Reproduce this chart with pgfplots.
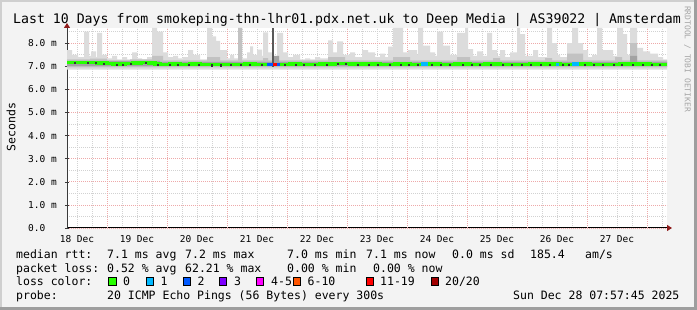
\documentclass[border=0pt]{standalone}
\usepackage{pgfplots}
\pgfplotsset{compat=1.18}
\usetikzlibrary{arrows.meta}
\usepackage{fontspec}
\setmainfont{DejaVu Sans Mono}
\newfontfamily\mono{DejaVu Sans Mono}
\newcommand\lf{\mono\fontsize{11.5bp}{12bp}\selectfont}
\newcommand\tf{\mono\fontsize{13.2bp}{14bp}\selectfont}
\newcommand\tkf{\mono\fontsize{9.5bp}{10bp}\selectfont}
\newcommand\wmf{\mono\fontsize{8bp}{9bp}\selectfont}
\definecolor{bgc}{HTML}{F3F3F3}
\definecolor{shadea}{HTML}{CFCFCF}
\definecolor{shadeb}{HTML}{9E9E9E}
\definecolor{mgrid}{HTML}{EEA9A9}
\definecolor{mingrid}{HTML}{D2D2D2}
\definecolor{smokeA}{HTML}{DCDCDC}
\definecolor{smokeB}{HTML}{C2C2C2}
\definecolor{smokeC}{HTML}{A2A2A2}
\definecolor{axisc}{HTML}{3A3A3A}
\definecolor{arrowc}{HTML}{8E1B1B}
\definecolor{lc0}{HTML}{26FF00}
\definecolor{lc1}{HTML}{00B8FF}
\definecolor{lc2}{HTML}{0059FF}
\definecolor{lc3}{HTML}{7E00FF}
\definecolor{lc4}{HTML}{FF00FF}
\definecolor{lc6}{HTML}{FF5500}
\definecolor{lc11}{HTML}{FF0000}
\definecolor{lc20}{HTML}{A10000}
\begin{document}
\begin{tikzpicture}
\path[use as bounding box, fill=bgc] (0,0) rectangle (697bp,310bp);
\fill[shadea] (0,0) rectangle (2bp,310bp);
\fill[shadea] (0,308bp) rectangle (697bp,310bp);
\fill[shadeb] (694bp,0) rectangle (697bp,310bp);
\fill[shadeb] (0,0) rectangle (697bp,3bp);
\begin{axis}[
  at={(67bp,82bp)}, anchor=south west,
  scale only axis, width=600bp, height=200bp,
  xmin=67, xmax=667, ymin=0, ymax=8.66,
  axis background/.style={fill=white},
  axis x line*=bottom, axis y line*=left,
  x axis line style={draw=black, line width=1bp, shorten >=-5bp, -{Triangle[length=5bp,width=6bp,color=arrowc]}},
  y axis line style={draw=axisc, line width=1bp, shorten >=-5bp, -{Triangle[length=5bp,width=6bp,color=arrowc]}},
  xtick={77,137,197,257,317,377,437,497,557,617},
  xticklabels={18 Dec,19 Dec,20 Dec,21 Dec,22 Dec,23 Dec,24 Dec,25 Dec,26 Dec,27 Dec},
  xticklabel style={font=\tkf, anchor=base, inner sep=0pt, yshift=-13bp},
  xtick style={draw=none},
  extra x ticks={107,167,227,287,347,407,467,527,587,647},
  extra x tick labels={},
  extra x tick style={xmajorgrids=true},
  minor xtick={77,92,...,662},
  ytick={0,1,...,8},
  yticklabels={0.0,1.0 m,2.0 m,3.0 m,4.0 m,5.0 m,6.0 m,7.0 m,8.0 m},
  yticklabel style={font=\tkf, anchor=west, inner sep=0pt, xshift=-37bp},
  minor ytick={0.5,1.5,...,8.5},
  ytick style={draw=axisc, line width=0.6bp},
  major tick length=4bp, minor tick length=0pt, tick align=center,
  xmajorgrids=false, xminorgrids=true, ymajorgrids=true, yminorgrids=true,
  major grid style={color=mgrid, line width=0.8bp, dash pattern=on 1bp off 1bp},
  minor grid style={color=mingrid, line width=0.8bp, dash pattern=on 1bp off 1bp},
]
% light smoke
\addplot[const plot, fill=smokeA, draw=none] coordinates {
(67,7.7) (72,7.5) (78,7.4) (84,8.5) (89,7.45) (91,7.65) (96,7.4) (97,8.45) (102,7.5)
(107,7.35) (112,7.45) (117,7.3) (122,7.4) (127,7.3) (132,7.6) (137,7.35) (142,7.3)
(147,7.4) (152,8.66) (157,8.5) (163,7.6) (168,7.4) (173,7.45) (178,7.35) (183,7.4)
(188,7.7) (193,7.5) (200,7.3) (207,8.66) (212,8.3) (216,8.1) (220,7.7) (227,7.35)
(230,7.5) (234,7.35) (238,8.66) (242,7.35) (247,7.6) (250,7.86) (253,7.5) (257,7.72)
(262,7.45) (263,8.47) (268,7.6) (272,7.4) (277,8.45) (283,7.6) (288,7.4) (293,7.5)
(300,7.3) (305,7.35) (310,7.3) (315,7.4) (320,7.35) (328,8.12) (333,7.6) (337,8.08)
(343,7.5) (350,7.6) (355,7.4) (362,7.7) (368,7.6) (375,7.4) (380,7.55) (385,7.4)
(388,7.85) (393,8.66) (403,7.6) (408,7.7) (417,7.5) (418,8.66) (423,7.9) (430,7.6)
(435,7.45) (437,8.5) (443,7.9) (450,7.5) (457,8.45) (465,8.66) (468,7.74) (473,7.45)
(477,7.65) (483,7.45) (487,8.45) (492,7.7) (497,7.45) (500,7.7) (505,7.4) (510,7.6)
(517,8.66) (520,8.4) (525,7.45) (533,7.7) (538,7.4) (547,8.66) (552,8.0) (557,7.5)
(560,7.4) (567,8.0) (572,8.66) (578,8.0) (583,7.7) (588,7.4) (592,7.5) (597,8.66)
(602,7.7) (613,7.45) (617,8.66) (623,8.4) (627,7.5) (630,8.66) (637,7.8) (643,7.65)
(650,7.55) (658,7.4) (663,7.3) (667,7.3) (667,6.86) (67,6.86)};
% medium smoke
\addplot[const plot, fill=smokeB, draw=none] coordinates {
(67,7.3) (90,7.33) (107,7.26) (130,7.3) (152,7.45) (163,7.26) (207,7.4) (220,7.26)
(238,8.66) (242,7.26) (263,7.36) (268,7.26) (328,7.4) (345,7.26) (393,7.4) (410,7.26)
(457,7.4) (470,7.26) (493,7.36) (500,7.26) (545,7.36) (552,7.26) (567,7.55) (583,7.26)
(615,7.4) (622,7.26) (630,8.0) (637,7.26) (667,7.26) (667,6.96) (67,6.96)};
% dark smoke
\addplot[const plot, fill=smokeC, draw=none] coordinates {
(67,7.24) (160,7.19) (272,7.45) (279,7.19) (630,7.45) (637,7.19) (667,7.19) (667,7.01) (67,7.01)};
% loss spike
\addplot[color=black!65, line width=2bp] coordinates {(273,6.98) (273,8.66)};
% median
\addplot[const plot, lc0, line width=3.5bp] coordinates {
(67,7.17) (82,7.16) (97,7.15) (107,7.13) (113,7.11) (119,7.10) (125,7.13) (133,7.15)
(141,7.16) (149,7.14) (155,7.11) (160,7.09) (170,7.10) (180,7.08) (190,7.10) (200,7.09)
(212,7.07) (222,7.09) (232,7.08) (245,7.10) (255,7.08) (265,7.07) (280,7.08) (290,7.10)
(300,7.08) (310,7.09) (320,7.10) (335,7.12) (350,7.10) (365,7.11) (380,7.09) (395,7.10)
(410,7.09) (425,7.10) (440,7.08) (455,7.10) (470,7.09) (485,7.11) (500,7.09) (515,7.08)
(530,7.10) (545,7.11) (560,7.09) (575,7.10) (590,7.08) (605,7.09) (620,7.11) (635,7.10)
(650,7.09) (667,7.09)};
\addplot[lc2, line width=3.5bp] coordinates {(267,7.07) (273,7.07)};
\addplot[lc11, line width=3.5bp] coordinates {(273,7.08) (277,7.08)};
\addplot[lc2, line width=3.5bp] coordinates {(277,7.08) (280,7.08)};
\addplot[lc1, line width=3.5bp] coordinates {(421,7.10) (428,7.10)};
\addplot[lc1, line width=3.5bp] coordinates {(556,7.09) (559,7.09)};
\addplot[lc1, line width=3.5bp] coordinates {(572,7.10) (579,7.10)};
% dark dots
\addplot[only marks, mark=square*, mark size=0.55bp, color=black!80] coordinates {
(75,7.15) (88,7.14) (96,7.14) (104,7.13) (117,7.09) (123,7.08) (131,7.11) (146,7.14)
(158,7.09) (170,7.08) (178,7.08) (189,7.06) (199,7.08) (212,7.05) (221,7.05) (231,7.07)
(241,7.06) (250,7.08) (262,7.06) (285,7.06) (296,7.08) (304,7.06) (315,7.07) (327,7.08)
(338,7.10) (346,7.10) (358,7.08) (369,7.09) (378,7.09) (390,7.07) (401,7.08) (409,7.08)
(418,7.07) (432,7.08) (441,7.06) (450,7.06) (463,7.08) (472,7.07) (480,7.07) (491,7.09)
(503,7.07) (512,7.07) (522,7.06) (531,7.08) (541,7.08) (550,7.09) (563,7.07) (569,7.07)
(585,7.08) (594,7.06) (603,7.06) (614,7.07) (622,7.09) (633,7.08) (643,7.08) (652,7.07)
(660,7.07)};
\end{axis}
% title and labels
\node[anchor=base west, inner sep=0pt] at (13bp,286bp) {\tf Last 10 Days from smokeping-thn-lhr01.pdx.net.uk to Deep Media | AS39022 | Amsterdam};
\node[rotate=90, inner sep=0pt] at (11bp,183bp) {\lf Seconds};
\node[rotate=-90, inner sep=0pt, text=black!35] at (687.5bp,251bp) {\wmf RRDTOOL / TOBI OETIKER};
\begin{scope}[every node/.style={anchor=base west, inner sep=0pt, font=\lf}]
\node at (16bp,51.5bp) {median rtt:};
\node at (107bp,51.5bp) {7.1 ms avg};
\node at (185bp,51.5bp) {7.2 ms max};
\node at (287bp,51.5bp) {7.0 ms min};
\node at (366bp,51.5bp) {7.1 ms now};
\node at (452bp,51.5bp) {0.0 ms sd};
\node at (530bp,51.5bp) {185.4};
\node at (585bp,51.5bp) {am/s};
\node at (16bp,38bp) {packet loss:};
\node at (107bp,38bp) {0.52 \% avg};
\node at (185bp,38bp) {62.21 \% max};
\node at (287bp,38bp) {0.00 \% min};
\node at (373bp,38bp) {0.00 \% now};
\node at (16bp,24.3bp) {loss color:};
\node at (123bp,24.3bp) {0};
\node at (160.5bp,24.3bp) {1};
\node at (197.5bp,24.3bp) {2};
\node at (234bp,24.3bp) {3};
\node at (271bp,24.3bp) {4-5};
\node at (307.5bp,24.3bp) {6-10};
\node at (380bp,24.3bp) {11-19};
\node at (445bp,24.3bp) {20/20};
\node at (16bp,10.7bp) {probe:};
\node at (107bp,10.7bp) {20 ICMP Echo Pings (56 Bytes) every 300s};
\node at (513bp,10.7bp) {Sun Dec 28 07:57:45 2025};
\end{scope}
\begin{scope}[every node/.style={draw=black, line width=1bp, minimum size=7.5bp, inner sep=0pt, anchor=center}]
\node[fill=lc0] at (112.5bp,28.3bp) {};
\node[fill=lc1] at (150bp,28.3bp) {};
\node[fill=lc2] at (187bp,28.3bp) {};
\node[fill=lc3] at (223bp,28.3bp) {};
\node[fill=lc4] at (260bp,28.3bp) {};
\node[fill=lc6] at (297bp,28.3bp) {};
\node[fill=lc11] at (370bp,28.3bp) {};
\node[fill=lc20] at (435bp,28.3bp) {};
\end{scope}
\end{tikzpicture}
\end{document}
